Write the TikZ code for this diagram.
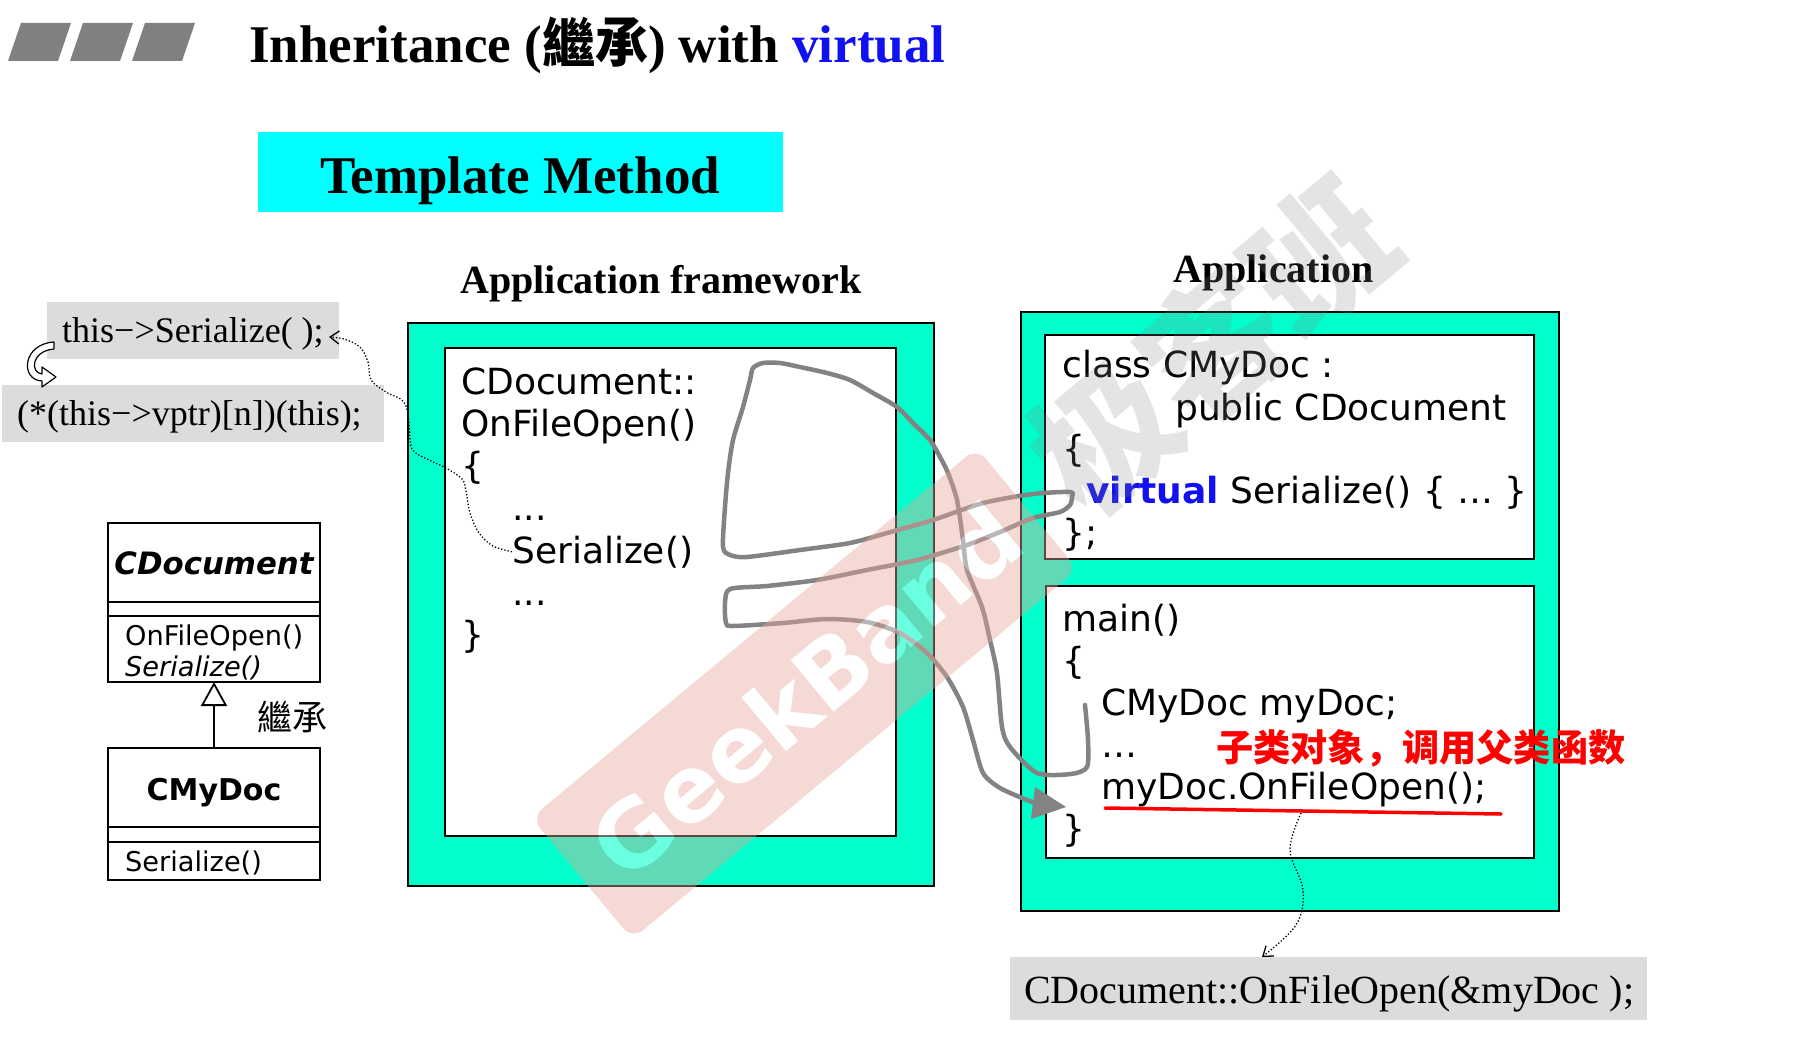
\documentclass[tikz,border=0pt]{standalone}
\usepackage{fontspec}
\setmainfont{Liberation Serif}
\newfontfamily\codefont{DejaVu Sans}
\newfontfamily\tcfont{Noto Sans CJK TC}
\newfontfamily\scfont{Noto Sans CJK SC}
\usetikzlibrary{arrows.meta}
\newcommand\fsz[1]{\fontsize{#1}{#1}\selectfont}

\definecolor{panelgreen}{HTML}{00FFCC}
\definecolor{headcyan}{HTML}{00FFFF}
\definecolor{notegray}{HTML}{DCDCDC}
\definecolor{kwblue}{HTML}{1010F0}
\definecolor{penGray}{HTML}{838383}
\definecolor{barGray}{HTML}{808080}
\definecolor{bandpink}{RGB}{231,166,156}
\definecolor{markgray}{HTML}{858585}

\tikzset{
  panel/.style={draw=black, line width=1.8pt, fill=panelgreen, inner sep=0pt, outer sep=0pt},
  sheet/.style={draw=black, line width=1.8pt, fill=white, inner sep=0pt, outer sep=0pt},
  note/.style={fill=notegray, inner sep=0pt, outer sep=0pt},
  umlbox/.style={draw=black, line width=1.8pt, fill=white, inner sep=0pt, outer sep=0pt},
  code/.style={anchor=base west, inner sep=0pt, font=\codefont\fsz{36}},
  umltxt/.style={anchor=base west, inner sep=0pt, font=\codefont\fsz{27.2}},
  serif/.style={anchor=base west, inner sep=0pt, font=\fsz{36}},
  heading/.style={anchor=base, inner sep=0pt, font=\bfseries\fsz{40}},
  pen/.style={draw=penGray, line width=4.5pt, line cap=round, line join=round},
  hint/.style={dotted, line width=1.3pt},
  barb/.style={-{Straight Barb[length=9pt, width=13pt, line width=1.3pt]}},
}

\begin{document}
\begin{tikzpicture}[x=1pt, y=-1pt]
\useasboundingbox (0,0) rectangle (1804,1054);
\fill[white] (0,0) rectangle (1804,1054);

% header bars
\foreach \i in {0,1,2} {
  \fill[barGray] ({21+62*\i},23) -- ({71+62*\i},23) -- ({58+62*\i},61) -- ({8+62*\i},61) -- cycle;
}

% title
\node[anchor=base west, inner sep=0pt, font=\bfseries\fsz{53}] (title) at (249,63)
  {Inheritance ({\tcfont 繼承}) with \textcolor{kwblue}{virtual}};

\node[fill=headcyan, minimum width=525pt, minimum height=80pt, inner sep=0pt] (tm) at (520.5,172) {};
\node[anchor=base, inner sep=0pt, font=\bfseries\fsz{53}] (tmtxt) at (520,193) {Template Method};

% column headings
\node[heading] (fwhead) at (661,293) {Application framework};
\node[heading] (apphead) at (1273.5,282) {Application};

% framework panel
\node[panel, minimum width=526pt, minimum height=563pt] (fw) at (671,604.5) {};
\node[sheet, minimum width=451pt, minimum height=488pt] (fwin) at (670.5,592) {};
\node[code] (fw1) at (461,394) {CDocument::};
\node[code] (fw2) at (461,436) {OnFileOpen()};
\node[code] (fw3) at (461,478) {\{};
\node[code] (fw4) at (512,520) {...};
\node[code] (fwser) at (512,563) {Serialize()};
\node[code] (fw6) at (512,605) {...};
\node[code] (fw7) at (461,647) {\}};

% application panel
\node[panel, minimum width=538pt, minimum height=599pt] (app) at (1290,611.5) {};
\node[sheet, minimum width=489pt, minimum height=224pt] (cls) at (1289.5,447) {};
\node[sheet, minimum width=488pt, minimum height=272pt] (mainb) at (1290,722) {};
\node[code] (c1) at (1062,377) {class CMyDoc :};
\node[code] (c2) at (1175,420) {public CDocument};
\node[code] (c3) at (1062,461) {\{};
\node[code] (c4) at (1086,503) {\textcolor{kwblue}{\bfseries virtual} Serialize() \{ … \}};
\node[code] (c5) at (1062,545) {\};};
\node[code] (m1) at (1062,631) {main()};
\node[code] (m2) at (1062,673) {\{};
\node[code] (m3) at (1101,715) {CMyDoc myDoc;};
\node[code] (m4) at (1101,757) {…};
\node[code] (m5) at (1101,799) {myDoc.OnFileOpen();};
\node[code] (m6) at (1062,841) {\}};
\node[anchor=base west, inner sep=0pt, text=red, font=\scfont\bfseries\fsz{37.2}] (remark) at (1216,761)
  {子类对象，调用父类函数};
\draw[red, line width=3.5pt, line cap=round] (1105,808) -- (1501,814);

% notes
\node[note, minimum width=292pt, minimum height=57pt] (n1) at (193,330.5) {};
\node[serif] (n1t) at (62,342) {this−>Serialize( );};
\node[note, minimum width=382pt, minimum height=57pt] (n2) at (193,413.5) {};
\node[serif] (n2t) at (17,425) {(*(this−>vptr)[n])(this);};
\node[note, minimum width=637pt, minimum height=63pt] (n3) at (1328.5,988.5) {};
\node[serif, font=\fsz{40}] (n3t) at (1024,1003) {CDocument::OnFileOpen(\&myDoc );};

% hollow curled arrow between the notes
\draw[line width=1.2pt, fill=white, line join=round]
  (54,342) .. controls (22,344) and (20,380) .. (42,381) -- (42,387) -- (56,377) -- (42,367) -- (42,374)
  .. controls (30,373) and (31,351) .. (54,349) -- cycle;

% UML classes
\node[umlbox, minimum width=212pt, minimum height=159pt] (cdoc) at (214,602.5) {};
\draw[line width=1.8pt] (108,602) -- (320,602) (108,616) -- (320,616);
\node[anchor=base, inner sep=0pt, font=\codefont\bfseries\itshape\fsz{30.8}] (cdocname) at (214,574) {CDocument};
\node[umltxt] (cdocm1) at (125,645) {OnFileOpen()};
\node[umltxt, font=\codefont\itshape\fsz{27.2}] (cdocm2) at (125,676) {Serialize()};

\node[umlbox, minimum width=212pt, minimum height=132pt] (cmy) at (214,814) {};
\draw[line width=1.8pt] (108,827) -- (320,827) (108,842) -- (320,842);
\node[anchor=base, inner sep=0pt, font=\codefont\bfseries\fsz{30}] (cmyname) at (214,800) {CMyDoc};
\node[umltxt] (cmym1) at (125,871) {Serialize()};

\draw[line width=1.8pt, -{Triangle[open, length=24pt, width=26pt, line width=1.8pt]}] (cmy.north) -- (cdoc.south);
\node[anchor=base west, inner sep=0pt, font=\tcfont\fsz{35}] (inh) at (257,730) {繼承};

% dotted hints
\coordinate (thisend) at (329,337);
\draw[hint, barb] plot[smooth, tension=0.55] coordinates {(fwser.west) (493,546) (479,533) (470,513) (466,491)
  (462,479) (446,468) (429,460) (412,449) (409,423) (404,402) (386,392) (371,380) (368,362) (360,347) (344,339) (thisend)};
\coordinate (ulmid) at (1301,813);
\coordinate (cdtop) at (1262,957);
\draw[hint, barb] plot[smooth, tension=0.6] coordinates {(ulmid) (1290,850) (1303,890) (1296,925) (cdtop)};

% call flow pen stroke
\draw[pen] plot[smooth, tension=0.45] coordinates {
  (1085,705) (1088,740) (1087,767) (1071,774) (1037,773) (1010,747) (1002,727) (997,673) (990,640) (982,607)
  (967,570) (963,540) (957,500) (948,473) (940,457) (930,440) (913,423) (897,407) (873,393) (850,380)
  (827,373) (800,367) (780,363) (763,363) (753,368) (750,380) (743,407) (733,440) (728,473) (725,507)
  (723,547) (730,555) (747,557) (800,550) (850,543) (887,533) (933,520) (983,503) (1033,494) (1070,492)
  (1072,497) (1070,505) (1060,512) (1033,518) (1000,532) (967,545) (917,560) (867,570) (817,580) (767,586)
  (730,589) (725,603) (726,623) (733,626) (783,623) (827,619) (867,622) (900,633) (927,653) (947,677)
  (963,707) (973,740) (983,773) (1000,788) (1027,800) (1036,803)};
\fill[penGray] (1035,787) -- (1066,807) -- (1031,819) -- cycle;

% watermarks
\begin{scope}[transparency group, opacity=0.42]
  \node[rotate=39.7, fill=bandpink, rounded corners=14pt, minimum width=579pt, minimum height=158pt, inner sep=0pt] (band) at (804.5,693.5) {};
  \node[rotate=39.7, text=white, inner sep=0pt, font=\codefont\bfseries\fsz{92}] (bandtxt) at (806,690) {GeekBand};
\end{scope}
\node[rotate=40, text=markgray, opacity=0.22, inner sep=0pt, font=\scfont\bfseries\fsz{140}] (mark) at (1212,345) {极客班};
\end{tikzpicture}
\end{document}
